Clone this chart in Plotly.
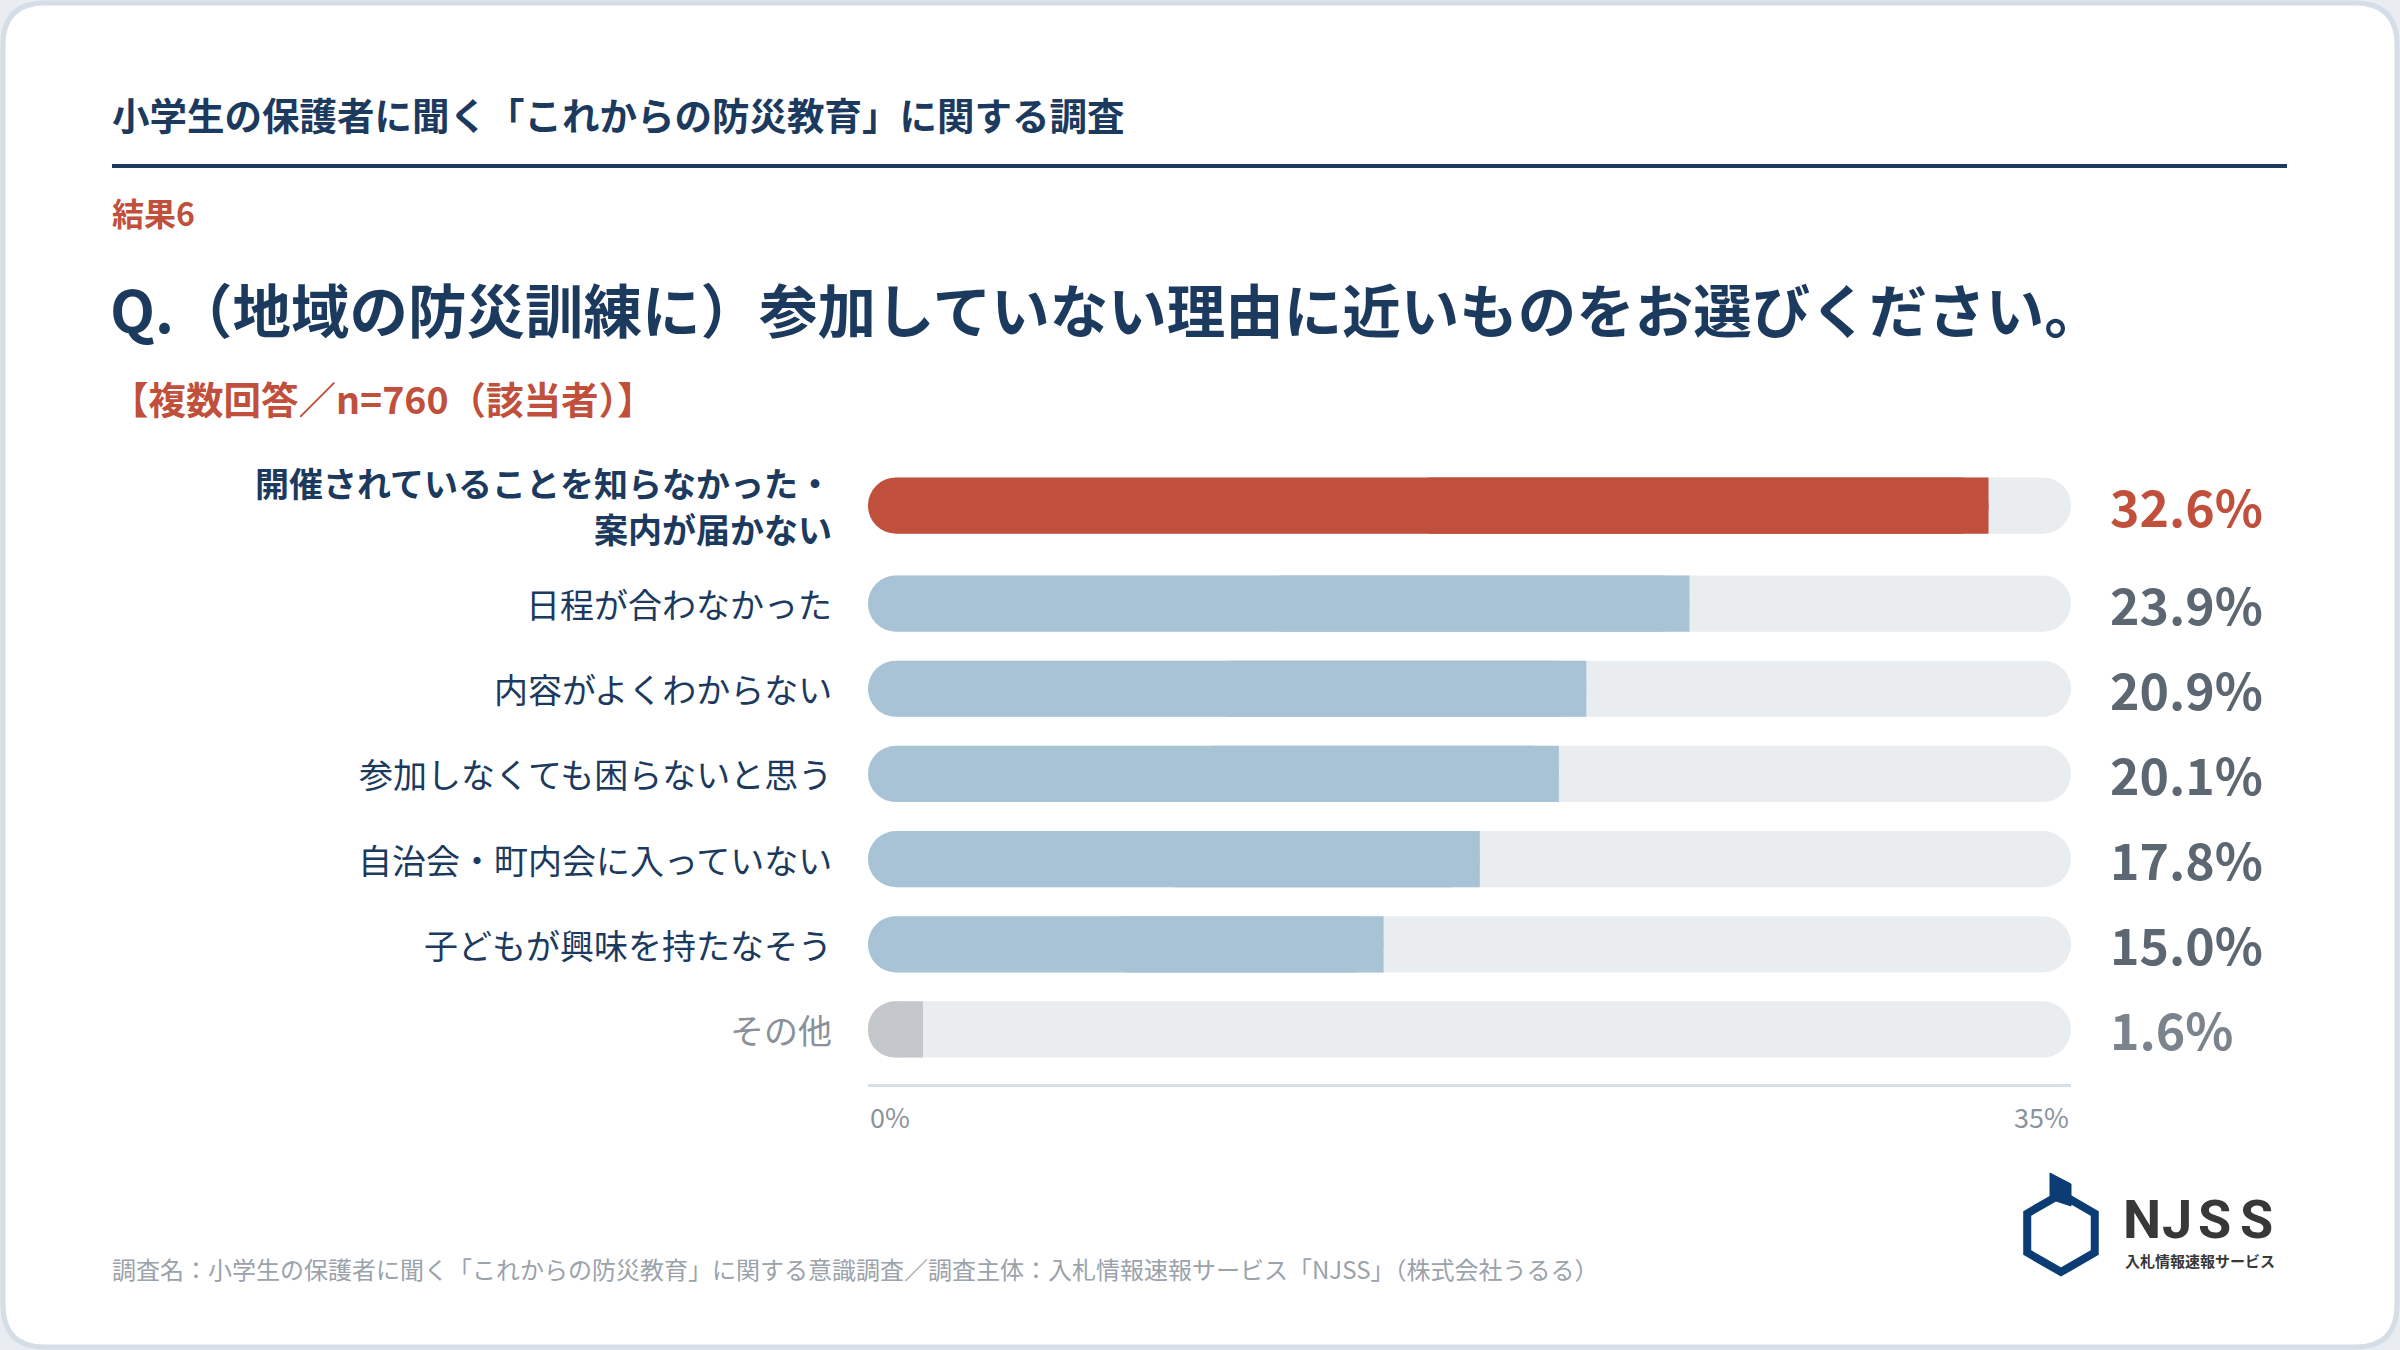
import math
import plotly.graph_objects as go

# data
categories = [
    "開催されていることを知らなかった・<br>案内が届かない",
    "日程が合わなかった",
    "内容がよくわからない",
    "参加しなくても困らないと思う",
    "自治会・町内会に入っていない",
    "子どもが興味を持たなそう",
    "その他",
]
values = [32.6, 23.9, 20.9, 20.1, 17.8, 15.0, 1.6]
axis_max = 35
tick_vals = [0, 35]
tick_text = ["0%", "35%"]

header = "小学生の保護者に聞く「これからの防災教育」に関する調査"
result_tag = "結果6"
question = "Q.（地域の防災訓練に）参加していない理由に近いものをお選びください。"
answer_note = "【複数回答／n=760（該当者）】"
footer = "調査名：小学生の保護者に聞く「これからの防災教育」に関する意識調査／調査主体：入札情報速報サービス「NJSS」（株式会社うるる）"

W, H = 2400, 1350
FONT = "Noto Sans CJK JP"
NAVY = "#1c3a5e"
RED = "#c0503c"
BLUE = "#a9c3d6"
TRACK = "#e9edf0"
OTHER = "#c4c8cc"


def px(x):
    return x / W


def py(y):
    return 1 - y / H


# row positions: a two-line label pushes the rows below a bit further
pos = []
extra = 0.0
for i, c in enumerate(categories):
    pos.append(i + extra)
    extra += 0.15 * c.count("<br>")

top_val = max(values)
fill_colors = []
for c, v in zip(categories, values):
    if v == top_val:
        fill_colors.append(RED)
    elif c == "その他":
        fill_colors.append(OTHER)
    else:
        fill_colors.append(BLUE)

n = len(values)
bar_w = 0.66
fig = go.Figure()
# background track (explicit base -> plotly rounds both ends)
fig.add_trace(go.Bar(
    y=pos, x=[axis_max] * n, base=[0] * n, orientation="h", width=bar_w,
    marker=dict(color=TRACK, cornerradius=28, line=dict(width=0)),
    hoverinfo="skip", showlegend=False,
))
# value bars, rounded at both ends ...
fig.add_trace(go.Bar(
    y=pos, x=values, base=[0] * n, orientation="h", width=bar_w,
    marker=dict(color=fill_colors, cornerradius=28, line=dict(width=0)),
    hovertemplate="%{x}%<extra></extra>", showlegend=False,
))
# ... then the right half painted again with square corners
fig.add_trace(go.Bar(
    y=pos, x=[v / 2 for v in values], base=[v / 2 for v in values], orientation="h", width=bar_w,
    marker=dict(color=fill_colors, cornerradius=0, line=dict(width=0)),
    hoverinfo="skip", showlegend=False,
))

ann = []
LINE_GAP = 46
# category labels and values
for i, (c, v) in enumerate(zip(categories, values)):
    is_top = v == top_val
    is_other = c == "その他"
    lab_col = "#8a9199" if is_other else NAVY
    lines = c.split("<br>")
    for k, line in enumerate(lines):
        ann.append(dict(x=px(834), xref="paper", y=pos[i], yref="y", xanchor="right", yanchor="middle",
                        yshift=-(k - (len(lines) - 1) / 2) * LINE_GAP,
                        text=f"<b>{line}</b>" if is_top else line, showarrow=False,
                        font=dict(family=FONT, size=34, color=lab_col)))
    val_col = RED if is_top else ("#7b848d" if is_other else "#5c6772")
    ann.append(dict(x=px(2108), xref="paper", y=pos[i], yref="y", xanchor="left", yanchor="middle",
                    yshift=1, text=f"<b>{v:.1f}%</b>", showarrow=False,
                    font=dict(family=FONT, size=50, color=val_col)))
# axis end labels
for tv, tt in zip(tick_vals, tick_text):
    ann.append(dict(x=tv, xref="x", y=py(1116), yref="paper",
                    xanchor="left" if tv == 0 else "right", yanchor="middle",
                    text=tt, showarrow=False, font=dict(family=FONT, size=27, color="#8a939c")))

# header texts
ann += [
    dict(x=px(110), y=py(113), text=f"<b>{header}</b>", font=dict(family=FONT, size=37.5, color=NAVY)),
    dict(x=px(110), y=py(212), text=f"<b>{result_tag}</b>", font=dict(family=FONT, size=32, color=RED)),
    dict(x=px(108), y=py(307), text=f"<b>{question}</b>", font=dict(family=FONT, size=58.5, color=NAVY)),
    dict(x=px(109), y=py(397), text=f"<b>{answer_note}</b>", font=dict(family=FONT, size=37.5, color=RED)),
    dict(x=px(110), y=py(1268), text=footer, font=dict(family=FONT, size=24, color="#9aa2aa")),
]
for a in ann[-5:]:
    a.update(xref="paper", yref="paper", xanchor="left", yanchor="middle", showarrow=False)

# logo text
for ch, cx in zip("NJSS", [2142, 2177, 2214, 2256]):
    ann.append(dict(x=px(cx), y=py(1219), xref="paper", yref="paper", xanchor="center", yanchor="middle",
                    text=f"<b>{ch}</b>", showarrow=False, font=dict(family="Roboto", size=54, color="#383838")))
ann.append(dict(x=px(2200), y=py(1260), xref="paper", yref="paper", xanchor="center", yanchor="middle",
                text="<b>入札情報速報サービス</b>", showarrow=False, font=dict(family=FONT, size=15, color="#383838")))


def path(points, close=True):
    s = "M " + " L ".join(f"{px(x)},{py(y)}" for x, y in points)
    return s + (" Z" if close else "")


# card with rounded corners
r = 42
x0, y0, x1, y1 = 3, 3, 2397, 1347
card = (f"M {px(x0 + r)},{py(y0)} L {px(x1 - r)},{py(y0)} Q {px(x1)},{py(y0)} {px(x1)},{py(y0 + r)} "
        f"L {px(x1)},{py(y1 - r)} Q {px(x1)},{py(y1)} {px(x1 - r)},{py(y1)} "
        f"L {px(x0 + r)},{py(y1)} Q {px(x0)},{py(y1)} {px(x0)},{py(y1 - r)} "
        f"L {px(x0)},{py(y0 + r)} Q {px(x0)},{py(y0)} {px(x0 + r)},{py(y0)} Z")

# logo hexagon
hx, hy, hr = 2061, 1233, 39
hex_pts = [(hx + hr * math.cos(math.radians(a)), hy - hr * math.sin(math.radians(a)))
           for a in (90, 30, -30, -90, -150, 150)]

shapes = [
    dict(type="path", path=card, xref="paper", yref="paper", fillcolor="white",
         line=dict(color="#d5dde7", width=5), layer="below"),
    dict(type="line", x0=px(112), x1=px(2287), y0=py(166), y1=py(166), xref="paper", yref="paper",
         line=dict(color=NAVY, width=4)),
    dict(type="path", path=path(hex_pts), xref="paper", yref="paper",
         line=dict(color="#0b3c73", width=8), fillcolor="rgba(0,0,0,0)"),
    dict(type="path", path=path([(2050, 1173), (2071, 1184), (2071, 1206), (2050, 1199)]),
         xref="paper", yref="paper", line=dict(color="#0b3c73", width=1), fillcolor="#0b3c73"),
]

fig.update_layout(
    width=W, height=H,
    margin=dict(l=0, r=0, t=0, b=0),
    paper_bgcolor="#e9edf2",
    plot_bgcolor="rgba(0,0,0,0)",
    barmode="overlay",
    xaxis=dict(domain=[px(868), px(2071)], range=[0, axis_max], showgrid=False, zeroline=False,
               showticklabels=False, ticks="", showline=True, linecolor="#d6dee6", linewidth=3,
               fixedrange=True),
    yaxis=dict(domain=[py(1084), py(440)], range=[6.79, -0.77], showgrid=False, zeroline=False,
               showticklabels=False, ticks="", fixedrange=True),
    annotations=ann,
    shapes=shapes,
    showlegend=False,
)

fig.write_html("out.html", config={"displayModeBar": False},
               post_script="document.body.style.margin='0';")
